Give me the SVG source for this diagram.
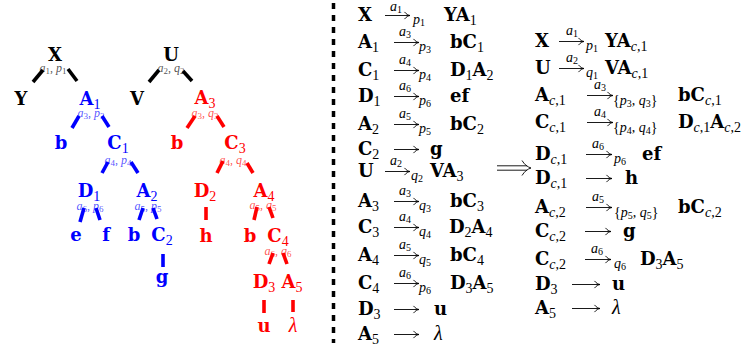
<svg xmlns="http://www.w3.org/2000/svg" width="755" height="347" viewBox="0 0 755 347">
<defs>
<marker id="ah" viewBox="-7 -5 9 10" markerWidth="9" markerHeight="10" refX="0" refY="0" orient="auto" markerUnits="userSpaceOnUse">
<path d="M-5.5,-3.6 C-3.8,-1.3 -1.6,-0.3 0,0 C-1.6,0.3 -3.8,1.3 -5.5,3.6" fill="none" stroke="#000" stroke-width="0.9"/>
</marker>
<style>
text{font-family:"Liberation Serif","Times New Roman",serif}
.m{font-family:"DejaVu Serif","Liberation Serif",serif;font-size:18px;font-weight:bold}
.s{font-family:"Liberation Serif",serif;font-size:14px;font-weight:normal}
.it{font-style:italic}
.rm{font-style:normal}
.l{font-size:14px;font-style:italic}
.ls{font-size:10px;font-style:normal}
.e{font-size:12px;font-style:italic;fill-opacity:0.7}
.es{font-size:9px;font-style:normal}
.k{fill:#000}.bl{fill:#0000ff}.rd{fill:#ff0000}
.ek{stroke:#000;stroke-width:3.6}.eb{stroke:#0000ff;stroke-width:3.6}.er{stroke:#ff0000;stroke-width:3.6}
.arr{stroke:#000;stroke-width:0.9;marker-end:url(#ah);fill:none}
.mid{text-anchor:middle}
.lam{font-size:20px;font-style:italic}
</style>
</defs>
<rect width="755" height="347" fill="#fff"/>

<!-- tree nodes -->
<g id="n-X"><text class="m k mid" x="55" y="61">X</text></g>
<g id="n-Y"><text class="m k mid" x="21" y="105">Y</text></g>
<g id="n-U"><text class="m k mid" x="171" y="61">U</text></g>
<g id="n-V"><text class="m k mid" x="137" y="105">V</text></g>
<g id="n-A1"><text class="m bl mid" x="90" y="105">A<tspan class="s" dy="4">1</tspan></text></g>
<g id="n-b1"><text class="m bl mid" x="61" y="149">b</text></g>
<g id="n-C1"><text class="m bl mid" x="118" y="149">C<tspan class="s" dy="4">1</tspan></text></g>
<g id="n-D1"><text class="m bl mid" x="89" y="197">D<tspan class="s" dy="4">1</tspan></text></g>
<g id="n-A2"><text class="m bl mid" x="147" y="197">A<tspan class="s" dy="4">2</tspan></text></g>
<g id="n-e"><text class="m bl mid" x="76" y="241">e</text></g>
<g id="n-f"><text class="m bl mid" x="106" y="241">f</text></g>
<g id="n-b2"><text class="m bl mid" x="134" y="241">b</text></g>
<g id="n-C2"><text class="m bl mid" x="162" y="241">C<tspan class="s" dy="4">2</tspan></text></g>
<g id="n-g"><text class="m bl mid" x="162" y="283">g</text></g>
<g id="n-A3"><text class="m rd mid" x="205" y="104">A<tspan class="s" dy="4">3</tspan></text></g>
<g id="n-b3"><text class="m rd mid" x="177" y="149">b</text></g>
<g id="n-C3"><text class="m rd mid" x="235" y="149">C<tspan class="s" dy="4">3</tspan></text></g>
<g id="n-D2"><text class="m rd mid" x="205" y="197">D<tspan class="s" dy="4">2</tspan></text></g>
<g id="n-A4"><text class="m rd mid" x="264" y="197">A<tspan class="s" dy="4">4</tspan></text></g>
<g id="n-h"><text class="m rd mid" x="206" y="242">h</text></g>
<g id="n-b4"><text class="m rd mid" x="250" y="242">b</text></g>
<g id="n-C4"><text class="m rd mid" x="278" y="242">C<tspan class="s" dy="4">4</tspan></text></g>
<g id="n-D3"><text class="m rd mid" x="264" y="288">D<tspan class="s" dy="4">3</tspan></text></g>
<g id="n-A5"><text class="m rd mid" x="292" y="288">A<tspan class="s" dy="4">5</tspan></text></g>
<g id="n-u"><text class="m rd mid" x="264" y="332">u</text></g>
<g id="n-lam"><text class="rd mid lam" x="293" y="332">λ</text></g>

<!-- tree connectors -->
<g id="connectors">
<text class="e k mid" x="53" y="72">a<tspan class="es" dy="2">1</tspan><tspan class="rm" dy="-2">, </tspan>p<tspan class="es" dy="2">1</tspan></text>
<text class="e k mid" x="171" y="72">a<tspan class="es" dy="2">2</tspan><tspan class="rm" dy="-2">, </tspan>q<tspan class="es" dy="2">2</tspan></text>
<text class="e bl mid" x="91" y="117">a<tspan class="es" dy="2">3</tspan><tspan class="rm" dy="-2">, </tspan>p<tspan class="es" dy="2">3</tspan></text>
<text class="e rd mid" x="205" y="117">a<tspan class="es" dy="2">3</tspan><tspan class="rm" dy="-2">, </tspan>q<tspan class="es" dy="2">3</tspan></text>
<text class="e bl mid" x="118" y="164">a<tspan class="es" dy="2">4</tspan><tspan class="rm" dy="-2">, </tspan>p<tspan class="es" dy="2">4</tspan></text>
<text class="e rd mid" x="233" y="164">a<tspan class="es" dy="2">4</tspan><tspan class="rm" dy="-2">, </tspan>q<tspan class="es" dy="2">4</tspan></text>
<text class="e bl mid" x="90" y="210">a<tspan class="es" dy="2">6</tspan><tspan class="rm" dy="-2">, </tspan>p<tspan class="es" dy="2">6</tspan></text>
<text class="e bl mid" x="148" y="210">a<tspan class="es" dy="2">5</tspan><tspan class="rm" dy="-2">, </tspan>p<tspan class="es" dy="2">5</tspan></text>
<text class="e rd mid" x="263" y="209">a<tspan class="es" dy="2">5</tspan><tspan class="rm" dy="-2">, </tspan>q<tspan class="es" dy="2">5</tspan></text>
<text class="e rd mid" x="278" y="255">a<tspan class="es" dy="2">6</tspan><tspan class="rm" dy="-2">, </tspan>q<tspan class="es" dy="2">6</tspan></text>
<line class="ek" x1="43" y1="70" x2="33" y2="82"/>
<line class="ek" x1="68" y1="69" x2="77" y2="81"/>
<line class="ek" x1="159" y1="70" x2="149" y2="82"/>
<line class="ek" x1="183" y1="71" x2="192" y2="81"/>
<line class="eb" x1="79" y1="116" x2="72" y2="128"/>
<line class="eb" x1="102" y1="116" x2="109" y2="127"/>
<line class="eb" x1="108" y1="162" x2="102" y2="173"/>
<line class="eb" x1="131" y1="162" x2="138" y2="173"/>
<line class="eb" x1="84" y1="208" x2="80" y2="222"/>
<line class="eb" x1="96" y1="208" x2="100" y2="220"/>
<line class="eb" x1="143" y1="208" x2="139" y2="220"/>
<line class="eb" x1="153" y1="208" x2="157" y2="219"/>
<line class="eb" x1="163" y1="254" x2="163" y2="267"/>
<line class="er" x1="195" y1="116" x2="187" y2="128"/>
<line class="er" x1="217" y1="116" x2="224" y2="127"/>
<line class="er" x1="223" y1="161" x2="217" y2="173"/>
<line class="er" x1="247" y1="163" x2="253" y2="173"/>
<line class="er" x1="206" y1="207" x2="206" y2="220"/>
<line class="er" x1="257" y1="207" x2="254" y2="220"/>
<line class="er" x1="269" y1="207" x2="273" y2="218"/>
<line class="er" x1="273" y1="253" x2="269" y2="264"/>
<line class="er" x1="283" y1="253" x2="287" y2="264"/>
<line class="er" x1="264" y1="300" x2="264" y2="313"/>
<line class="er" x1="293" y1="300" x2="293" y2="312"/>
</g>

<!-- separator -->
<line x1="333.5" y1="3" x2="333.5" y2="343" stroke="#000" stroke-width="3.5" stroke-dasharray="6 6"/>

<!-- left rules -->
<g id="rules-left">
<text class="m" x="358" y="21">X</text>
<line class="arr" x1="385" y1="15.5" x2="410" y2="15.5"/>
<text class="l" x="390" y="11">a<tspan class="ls" dy="2">1</tspan></text>
<text class="l" x="413" y="24">p<tspan class="ls" dy="2">1</tspan></text>
<text class="m" x="444" y="21">YA<tspan class="s" dy="4">1</tspan></text>

<text class="m" x="358" y="48">A<tspan class="s" dy="4">1</tspan></text>
<line class="arr" x1="394" y1="42.5" x2="419" y2="42.5"/>
<text class="l" x="399" y="36">a<tspan class="ls" dy="2">3</tspan></text>
<text class="l" x="419" y="51">p<tspan class="ls" dy="2">3</tspan></text>
<text class="m" x="450" y="48">bC<tspan class="s" dy="4">1</tspan></text>

<text class="m" x="358" y="76">C<tspan class="s" dy="4">1</tspan></text>
<line class="arr" x1="394" y1="70.5" x2="419" y2="70.5"/>
<text class="l" x="399" y="64">a<tspan class="ls" dy="2">4</tspan></text>
<text class="l" x="419" y="79">p<tspan class="ls" dy="2">4</tspan></text>
<text class="m" x="450" y="76">D<tspan class="s" dy="4">1</tspan><tspan dy="-4">A</tspan><tspan class="s" dy="4">2</tspan></text>

<text class="m" x="358" y="102">D<tspan class="s" dy="4">1</tspan></text>
<line class="arr" x1="394" y1="96.5" x2="419" y2="96.5"/>
<text class="l" x="399" y="90">a<tspan class="ls" dy="2">6</tspan></text>
<text class="l" x="419" y="105">p<tspan class="ls" dy="2">6</tspan></text>
<text class="m" x="450" y="102">ef</text>

<text class="m" x="358" y="130">A<tspan class="s" dy="4">2</tspan></text>
<line class="arr" x1="394" y1="124.5" x2="419" y2="124.5"/>
<text class="l" x="399" y="118">a<tspan class="ls" dy="2">5</tspan></text>
<text class="l" x="419" y="133">p<tspan class="ls" dy="2">5</tspan></text>
<text class="m" x="450" y="130">bC<tspan class="s" dy="4">2</tspan></text>

<text class="m" x="358" y="155">C<tspan class="s" dy="4">2</tspan></text>
<line class="arr" x1="394" y1="149.5" x2="419" y2="149.5"/>
<text class="m" x="430" y="155">g</text>

<text class="m" x="358" y="177">U</text>
<line class="arr" x1="385" y1="171.5" x2="410" y2="171.5"/>
<text class="l" x="390" y="165">a<tspan class="ls" dy="2">2</tspan></text>
<text class="l" x="411" y="180">q<tspan class="ls" dy="2">2</tspan></text>
<text class="m" x="430" y="177">VA<tspan class="s" dy="4">3</tspan></text>

<text class="m" x="358" y="207">A<tspan class="s" dy="4">3</tspan></text>
<line class="arr" x1="394" y1="201.5" x2="419" y2="201.5"/>
<text class="l" x="399" y="195">a<tspan class="ls" dy="2">3</tspan></text>
<text class="l" x="419" y="210">q<tspan class="ls" dy="2">3</tspan></text>
<text class="m" x="450" y="207">bC<tspan class="s" dy="4">3</tspan></text>

<text class="m" x="358" y="233">C<tspan class="s" dy="4">3</tspan></text>
<line class="arr" x1="394" y1="227.5" x2="419" y2="227.5"/>
<text class="l" x="399" y="221">a<tspan class="ls" dy="2">4</tspan></text>
<text class="l" x="419" y="236">q<tspan class="ls" dy="2">4</tspan></text>
<text class="m" x="449" y="233">D<tspan class="s" dy="4">2</tspan><tspan dy="-4">A</tspan><tspan class="s" dy="4">4</tspan></text>

<text class="m" x="358" y="261">A<tspan class="s" dy="4">4</tspan></text>
<line class="arr" x1="394" y1="255.5" x2="419" y2="255.5"/>
<text class="l" x="399" y="249">a<tspan class="ls" dy="2">5</tspan></text>
<text class="l" x="419" y="264">q<tspan class="ls" dy="2">5</tspan></text>
<text class="m" x="450" y="261">bC<tspan class="s" dy="4">4</tspan></text>

<text class="m" x="358" y="289">C<tspan class="s" dy="4">4</tspan></text>
<line class="arr" x1="394" y1="283.5" x2="419" y2="283.5"/>
<text class="l" x="399" y="277">a<tspan class="ls" dy="2">6</tspan></text>
<text class="l" x="419" y="292">p<tspan class="ls" dy="2">6</tspan></text>
<text class="m" x="450" y="289">D<tspan class="s" dy="4">3</tspan><tspan dy="-4">A</tspan><tspan class="s" dy="4">5</tspan></text>

<text class="m" x="358" y="315">D<tspan class="s" dy="4">3</tspan></text>
<line class="arr" x1="394" y1="309.5" x2="419" y2="309.5"/>
<text class="m" x="434" y="315">u</text>

<text class="m" x="358" y="340">A<tspan class="s" dy="4">5</tspan></text>
<line class="arr" x1="394" y1="334.5" x2="419" y2="334.5"/>
<text class="lam" x="434" y="340">λ</text>
</g>

<!-- implies -->
<g id="implies" fill="none" stroke="#000" stroke-width="0.9">
<line x1="497" y1="165.8" x2="527" y2="165.8"/>
<line x1="497" y1="170.2" x2="527" y2="170.2"/>
<path d="M522,160.5 C524.5,164.5 527.5,167 531,168 C527.5,169 524.5,171.5 522,175.5"/>
</g>

<!-- right rules -->
<g id="rules-right">
<text class="m" x="535" y="47">X</text>
<line class="arr" x1="559" y1="41.5" x2="584" y2="41.5"/>
<text class="l" x="566" y="35">a<tspan class="ls" dy="2">1</tspan></text>
<text class="l" x="586" y="50">p<tspan class="ls" dy="2">1</tspan></text>
<text class="m" x="605" y="47">YA<tspan class="s" dy="4"><tspan class="it">c</tspan>,1</tspan></text>

<text class="m" x="535" y="74">U</text>
<line class="arr" x1="559" y1="68.5" x2="584" y2="68.5"/>
<text class="l" x="566" y="62">a<tspan class="ls" dy="2">2</tspan></text>
<text class="l" x="586" y="77">q<tspan class="ls" dy="2">1</tspan></text>
<text class="m" x="605" y="74">VA<tspan class="s" dy="4"><tspan class="it">c</tspan>,1</tspan></text>

<text class="m" x="535" y="101">A<tspan class="s" dy="4"><tspan class="it">c</tspan>,1</tspan></text>
<line class="arr" x1="587" y1="95.5" x2="613" y2="95.5"/>
<text class="l" x="594" y="89">a<tspan class="ls" dy="2">3</tspan></text>
<text class="l" x="613" y="105"><tspan class="rm">{</tspan>p<tspan class="ls" dy="2">3</tspan><tspan class="rm" dy="-2">, </tspan>q<tspan class="ls" dy="2">3</tspan><tspan class="rm" dy="-2">}</tspan></text>
<text class="m" x="678" y="101">bC<tspan class="s" dy="4"><tspan class="it">c</tspan>,1</tspan></text>

<text class="m" x="535" y="128">C<tspan class="s" dy="4"><tspan class="it">c</tspan>,1</tspan></text>
<line class="arr" x1="587" y1="122.5" x2="613" y2="122.5"/>
<text class="l" x="594" y="116">a<tspan class="ls" dy="2">4</tspan></text>
<text class="l" x="613" y="132"><tspan class="rm">{</tspan>p<tspan class="ls" dy="2">4</tspan><tspan class="rm" dy="-2">, </tspan>q<tspan class="ls" dy="2">4</tspan><tspan class="rm" dy="-2">}</tspan></text>
<text class="m" x="678" y="128">D<tspan class="s" dy="4"><tspan class="it">c</tspan>,1</tspan><tspan dy="-4">A</tspan><tspan class="s" dy="4"><tspan class="it">c</tspan>,2</tspan></text>

<text class="m" x="535" y="160">D<tspan class="s" dy="4"><tspan class="it">c</tspan>,1</tspan></text>
<line class="arr" x1="586" y1="154.5" x2="612" y2="154.5"/>
<text class="l" x="592" y="148">a<tspan class="ls" dy="2">6</tspan></text>
<text class="l" x="614" y="163">p<tspan class="ls" dy="2">6</tspan></text>
<text class="m" x="642" y="160">ef</text>

<text class="m" x="535" y="184">D<tspan class="s" dy="4"><tspan class="it">c</tspan>,1</tspan></text>
<line class="arr" x1="586" y1="178.5" x2="612" y2="178.5"/>
<text class="m" x="625" y="184">h</text>

<text class="m" x="535" y="213">A<tspan class="s" dy="4"><tspan class="it">c</tspan>,2</tspan></text>
<line class="arr" x1="586" y1="207.5" x2="612" y2="207.5"/>
<text class="l" x="592" y="201">a<tspan class="ls" dy="2">5</tspan></text>
<text class="l" x="614" y="217"><tspan class="rm">{</tspan>p<tspan class="ls" dy="2">5</tspan><tspan class="rm" dy="-2">, </tspan>q<tspan class="ls" dy="2">5</tspan><tspan class="rm" dy="-2">}</tspan></text>
<text class="m" x="678" y="213">bC<tspan class="s" dy="4"><tspan class="it">c</tspan>,2</tspan></text>

<text class="m" x="535" y="237">C<tspan class="s" dy="4"><tspan class="it">c</tspan>,2</tspan></text>
<line class="arr" x1="585" y1="231.5" x2="611" y2="231.5"/>
<text class="m" x="623" y="237">g</text>

<text class="m" x="535" y="265">C<tspan class="s" dy="4"><tspan class="it">c</tspan>,2</tspan></text>
<line class="arr" x1="585" y1="259.5" x2="611" y2="259.5"/>
<text class="l" x="591" y="253">a<tspan class="ls" dy="2">6</tspan></text>
<text class="l" x="614" y="268">q<tspan class="ls" dy="2">6</tspan></text>
<text class="m" x="640" y="265">D<tspan class="s" dy="4">3</tspan><tspan dy="-4">A</tspan><tspan class="s" dy="4">5</tspan></text>

<text class="m" x="535" y="290">D<tspan class="s" dy="4">3</tspan></text>
<line class="arr" x1="572" y1="284.5" x2="600" y2="284.5"/>
<text class="m" x="612" y="290">u</text>

<text class="m" x="535" y="314">A<tspan class="s" dy="4">5</tspan></text>
<line class="arr" x1="572" y1="308.5" x2="600" y2="308.5"/>
<text class="lam" x="612" y="314">λ</text>
</g>
</svg>
